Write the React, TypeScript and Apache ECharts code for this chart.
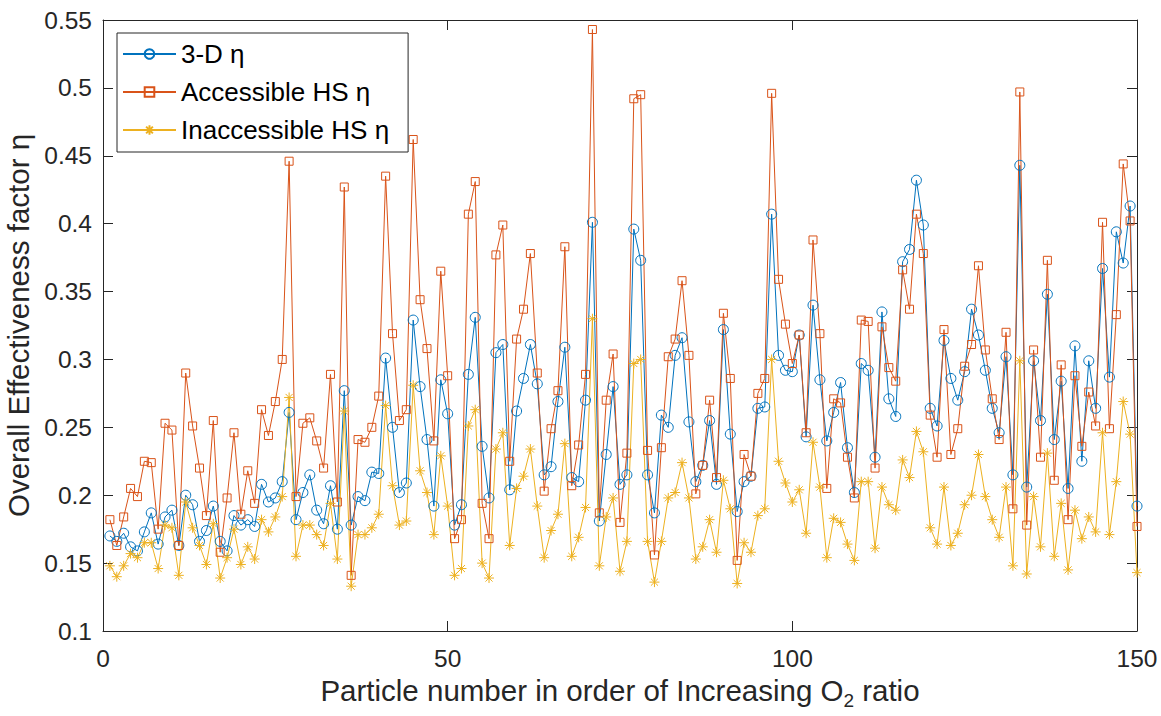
import React, { useEffect, useRef } from "react";
import * as echarts from "echarts";

const particleIndex: number[] = Array.from({ length: 150 }, (_, i) => i + 1);

const eta3D: number[] = [
  0.170, 0.166, 0.172, 0.162, 0.159, 0.173, 0.187, 0.164, 0.184, 0.189,
  0.163, 0.200, 0.193, 0.166, 0.174, 0.192, 0.166, 0.159, 0.185, 0.178,
  0.182, 0.177, 0.208, 0.195, 0.198, 0.210, 0.261, 0.182, 0.202, 0.215,
  0.189, 0.179, 0.207, 0.175, 0.277, 0.178, 0.199, 0.196, 0.217, 0.216,
  0.301, 0.250, 0.202, 0.209, 0.329, 0.280, 0.241, 0.192, 0.285, 0.260,
  0.178, 0.193, 0.289, 0.331, 0.236, 0.198, 0.305, 0.311, 0.204, 0.262,
  0.286, 0.311, 0.282, 0.215, 0.221, 0.269, 0.309, 0.213, 0.210, 0.270,
  0.401, 0.181, 0.230, 0.280, 0.208, 0.215, 0.396, 0.373, 0.215, 0.187,
  0.259, 0.250, 0.303, 0.316, 0.254, 0.210, 0.222, 0.255, 0.208, 0.322,
  0.245, 0.188, 0.210, 0.214, 0.264, 0.265, 0.407, 0.303, 0.292, 0.291,
  0.318, 0.243, 0.340, 0.285, 0.240, 0.261, 0.283, 0.235, 0.202, 0.297,
  0.292, 0.228, 0.335, 0.271, 0.258, 0.372, 0.381, 0.432, 0.399, 0.264,
  0.251, 0.314, 0.286, 0.270, 0.291, 0.337, 0.318, 0.292, 0.264, 0.246,
  0.302, 0.215, 0.443, 0.206, 0.299, 0.255, 0.348, 0.241, 0.284, 0.205,
  0.310, 0.225, 0.299, 0.264, 0.367, 0.287, 0.394, 0.371, 0.413, 0.192,
];

const etaAccessible: number[] = [
  0.182, 0.163, 0.184, 0.205, 0.199, 0.225, 0.224, 0.175, 0.253, 0.248,
  0.163, 0.290, 0.251, 0.220, 0.185, 0.255, 0.158, 0.198, 0.246, 0.186,
  0.218, 0.194, 0.263, 0.244, 0.269, 0.300, 0.446, 0.199, 0.253, 0.257,
  0.240, 0.220, 0.289, 0.195, 0.427, 0.141, 0.241, 0.239, 0.250, 0.273,
  0.435, 0.319, 0.255, 0.263, 0.462, 0.344, 0.308, 0.240, 0.365, 0.288,
  0.168, 0.182, 0.407, 0.431, 0.194, 0.168, 0.377, 0.399, 0.225, 0.315,
  0.337, 0.378, 0.290, 0.203, 0.249, 0.277, 0.383, 0.207, 0.237, 0.289,
  0.543, 0.187, 0.270, 0.304, 0.180, 0.231, 0.492, 0.495, 0.233, 0.156,
  0.235, 0.302, 0.315, 0.358, 0.303, 0.201, 0.222, 0.270, 0.213, 0.334,
  0.286, 0.152, 0.230, 0.214, 0.275, 0.286, 0.496, 0.359, 0.326, 0.297,
  0.318, 0.246, 0.388, 0.319, 0.205, 0.271, 0.268, 0.228, 0.198, 0.329,
  0.328, 0.220, 0.324, 0.294, 0.284, 0.366, 0.337, 0.407, 0.378, 0.259,
  0.228, 0.322, 0.230, 0.249, 0.295, 0.311, 0.369, 0.307, 0.271, 0.241,
  0.320, 0.190, 0.497, 0.178, 0.307, 0.228, 0.373, 0.211, 0.296, 0.182,
  0.288, 0.236, 0.276, 0.251, 0.401, 0.249, 0.333, 0.444, 0.402, 0.177,
];

const etaInaccessible: number[] = [
  0.148, 0.140, 0.148, 0.157, 0.154, 0.165, 0.165, 0.146, 0.178, 0.176,
  0.141, 0.195, 0.176, 0.163, 0.149, 0.179, 0.139, 0.154, 0.175, 0.149,
  0.162, 0.153, 0.182, 0.173, 0.184, 0.199, 0.272, 0.155, 0.178, 0.178,
  0.171, 0.163, 0.194, 0.153, 0.262, 0.133, 0.171, 0.171, 0.176, 0.186,
  0.266, 0.207, 0.178, 0.181, 0.281, 0.218, 0.202, 0.171, 0.229, 0.192,
  0.141, 0.146, 0.251, 0.263, 0.150, 0.139, 0.234, 0.246, 0.163, 0.205,
  0.214, 0.234, 0.192, 0.154, 0.174, 0.186, 0.238, 0.155, 0.169, 0.191,
  0.330, 0.148, 0.184, 0.198, 0.144, 0.166, 0.297, 0.300, 0.166, 0.136,
  0.166, 0.198, 0.202, 0.224, 0.198, 0.153, 0.162, 0.182, 0.158, 0.211,
  0.190, 0.135, 0.165, 0.158, 0.185, 0.190, 0.300, 0.225, 0.209, 0.195,
  0.204, 0.172, 0.239, 0.206, 0.154, 0.183, 0.180, 0.164, 0.152, 0.210,
  0.210, 0.161, 0.206, 0.193, 0.189, 0.226, 0.213, 0.247, 0.232, 0.176,
  0.164, 0.206, 0.163, 0.172, 0.193, 0.200, 0.230, 0.199, 0.182, 0.169,
  0.206, 0.148, 0.299, 0.142, 0.199, 0.162, 0.231, 0.155, 0.194, 0.145,
  0.189, 0.168, 0.184, 0.173, 0.246, 0.171, 0.210, 0.269, 0.245, 0.143,
];

const seriesNames: string[] = ["3-D η", "Accessible HS η", "Inaccessible HS η"];
const xTitle = "Particle number in order of Increasing O";
const yTitle = "Overall Effectiveness factor η";

const FONT = "'Liberation Sans', Arial, Helvetica, sans-serif";
const AXIS = "#262626";
const BLUE = "#0072BD";
const ORANGE = "#D95319";
const YELLOW = "#EDB120";
const ASTERISK =
  "path://M0 10 L20 10 M10 0 L10 20 M2.93 2.93 L17.07 17.07 M17.07 2.93 L2.93 17.07";

const TICK_FS = 24.5;
const TITLE_FS = 29.5;
const LEGEND_FS = 26;

function pairs(values: number[]): number[][] {
  return values.map((v, i) => [particleIndex[i], v]);
}

export default function App() {
  const ref = useRef<HTMLDivElement>(null);

  useEffect(() => {
    if (!ref.current) return;
    const chart = echarts.init(ref.current, null, { renderer: "svg" });

    const tickStyle = { color: AXIS, width: 1 };
    const baseX = {
      type: "value" as const,
      min: 0,
      max: 150,
      interval: 50,
      splitLine: { show: false },
      axisLine: { show: true, onZero: false, lineStyle: tickStyle },
      axisTick: { show: true, inside: true, length: 10, lineStyle: tickStyle },
    };
    const baseY = {
      type: "value" as const,
      min: 0.1,
      max: 0.55,
      interval: 0.05,
      splitLine: { show: false },
      axisLine: { show: true, onZero: false, lineStyle: tickStyle },
      axisTick: { show: true, inside: true, length: 10, lineStyle: tickStyle },
    };

    const lineSeries = (
      name: string,
      values: number[],
      color: string,
      symbol: string,
      size: number
    ) => ({
      name,
      type: "line" as const,
      data: pairs(values),
      symbol,
      symbolSize: size,
      showSymbol: true,
      showAllSymbol: true,
      lineStyle: { color, width: 1 },
      itemStyle: { color: "rgba(0,0,0,0)", borderColor: color, borderWidth: 1 },
      emphasis: { disabled: true },
      silent: true,
    });

    chart.setOption({
      animation: false,
      backgroundColor: "#ffffff",
      textStyle: { fontFamily: FONT },
      grid: {
        left: 103,
        right: 24,
        top: 20,
        bottom: 85,
        containLabel: false,
        outerBoundsMode: "none",
      },
      legend: {
        orient: "vertical",
        left: 117,
        top: 33,
        backgroundColor: "#ffffff",
        borderColor: AXIS,
        borderWidth: 1,
        borderRadius: 0,
        padding: [8, 19, 9, 5],
        itemGap: 12,
        itemWidth: 53,
        itemHeight: 12,
        selectedMode: false,
        textStyle: { fontSize: LEGEND_FS, color: "#000000", fontFamily: FONT, lineHeight: 23 },
        data: seriesNames,
      },
      xAxis: [
        {
          ...baseX,
          position: "bottom",
          axisLabel: {
            show: true,
            fontSize: TICK_FS,
            lineHeight: 24,
            color: AXIS,
            fontFamily: FONT,
            margin: 15,
          },
          name: `{a|${xTitle}}{s|2}{a| ratio}`,
          nameLocation: "middle",
          nameGap: 39,
          nameTextStyle: {
            color: AXIS,
            fontFamily: FONT,
            fontSize: TITLE_FS,
            rich: {
              a: {
                fontSize: TITLE_FS,
                color: AXIS,
                fontFamily: FONT,
                lineHeight: 30,
                verticalAlign: "top",
              },
              s: {
                fontSize: 19,
                color: AXIS,
                fontFamily: FONT,
                lineHeight: 19,
                padding: [16, 0, 0, 0],
                verticalAlign: "top",
              },
            },
          },
        },
        {
          ...baseX,
          position: "top",
          axisLabel: { show: false },
        },
      ],
      yAxis: [
        {
          ...baseY,
          position: "left",
          axisLabel: {
            show: true,
            fontSize: TICK_FS,
            color: AXIS,
            fontFamily: FONT,
            margin: 11,
            formatter: (v: number) => String(parseFloat(v.toFixed(2))),
          },
          name: yTitle,
          nameLocation: "middle",
          nameGap: 68,
          nameTextStyle: { color: AXIS, fontFamily: FONT, fontSize: TITLE_FS, lineHeight: 30 },
        },
        {
          ...baseY,
          position: "right",
          axisLabel: { show: false },
        },
      ],
      series: [
        lineSeries(seriesNames[0], eta3D, BLUE, "circle", 10),
        lineSeries(seriesNames[1], etaAccessible, ORANGE, "rect", 8),
        lineSeries(seriesNames[2], etaInaccessible, YELLOW, ASTERISK, 10),
      ],
    });

    return () => chart.dispose();
  }, []);

  return (
    <div
      ref={ref}
      style={{ position: "fixed", left: 0, top: 0, width: 1161, height: 716, background: "#fff" }}
    />
  );
}
